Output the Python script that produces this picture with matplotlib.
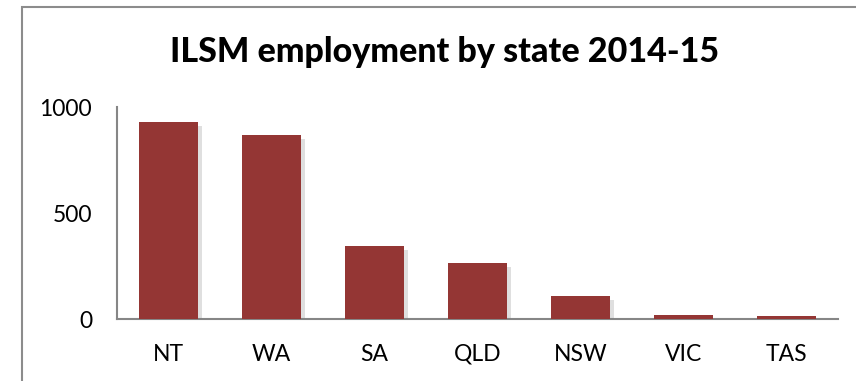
import matplotlib.pyplot as plt
import matplotlib.patheffects as pe
from matplotlib.patches import Rectangle

states = ['NT', 'WA', 'SA', 'QLD', 'NSW', 'VIC', 'TAS']
employment = [930, 868, 344, 264, 108, 19, 14]
yticks = [0, 500, 1000]

plt.rcParams['font.family'] = ['Lato', 'DejaVu Sans']

fig = plt.figure(figsize=(8.56, 3.81), dpi=100)
ax = fig.add_axes([117/856, 1 - 319/381, (838 - 117)/856, (319 - 107)/381])

# outer chart frame (cut off at right and bottom like the original)
fig.patches.append(Rectangle((22/856, -0.05), 1.0, 1 - 7/381 + 0.05,
                             transform=fig.transFigure, fill=False,
                             edgecolor='#8c8c8c', linewidth=1.5))

bars = ax.bar(range(len(states)), employment, width=0.57, color='#943634', zorder=3)
for b in bars:
    b.set_path_effects([pe.SimplePatchShadow(offset=(3, -3), shadow_rgbFace='#808080', alpha=0.25),
                        pe.Normal()])

ax.set_xlim(-0.5, len(states) - 0.5)
ax.set_ylim(0, 1000)
ax.set_yticks(yticks)
ax.set_xticks(range(len(states)))
ax.set_xticklabels(states)
ax.tick_params(axis='both', length=0, labelsize=16.5, colors='black')
ax.tick_params(axis='y', pad=18)
ax.tick_params(axis='x', pad=18)

for side in ['top', 'right']:
    ax.spines[side].set_visible(False)
for side in ['left', 'bottom']:
    ax.spines[side].set_color('#868686')
    ax.spines[side].set_linewidth(1.5)

fig.text(445/856, 1 - 52/381, 'ILSM employment by state 2014-15', ha='center', va='center',
         fontsize=24.5, fontweight='black')

fig.savefig('out.png', dpi=100)
